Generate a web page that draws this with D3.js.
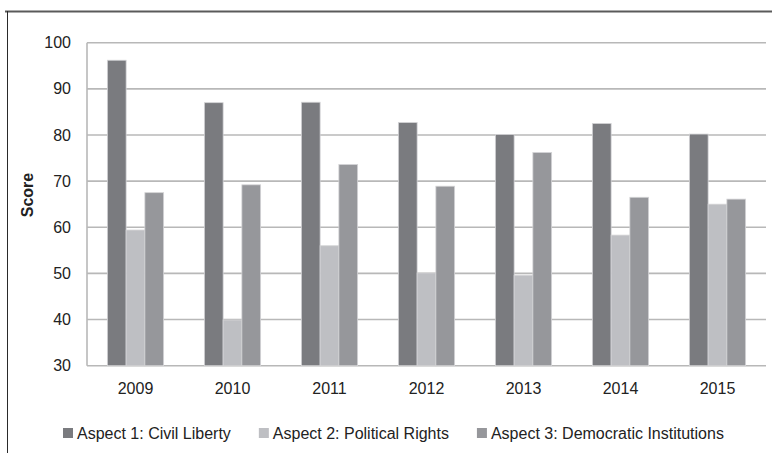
<!DOCTYPE html>
<html>
<head>
<meta charset="utf-8">
<script src="https://cdn.jsdelivr.net/npm/d3@7"></script>
<style>
  html, body { margin: 0; padding: 0; background: #fff; }
  svg { display: block; font-family: "Liberation Sans", Arial, sans-serif; }
</style>
</head>
<body>
<svg id="chart" width="772" height="453"></svg>
<script>
// Yearly scores on three aspects
const years = ["2009", "2010", "2011", "2012", "2013", "2014", "2015"];
const seriesNames = [
  "Aspect 1: Civil Liberty",
  "Aspect 2: Political Rights",
  "Aspect 3: Democratic Institutions"
];
const civilLiberty = [96.2, 87.0, 87.1, 82.7, 80.1, 82.5, 80.2];
const politicalRights = [59.4, 39.9, 56.0, 50.1, 49.6, 58.3, 65.0];
const democraticInstitutions = [67.5, 69.2, 73.6, 68.9, 76.2, 66.5, 66.1];
const yTicks = [30, 40, 50, 60, 70, 80, 90, 100];
const seriesColors = ["#7a7b7f", "#bebfc3", "#96979b"];

const seriesValues = [civilLiberty, politicalRights, democraticInstitutions];
const rows = years.map((y, i) => ({
  year: y,
  values: seriesNames.map((s, k) => ({ key: s, value: seriesValues[k][i] }))
}));

const svg = d3.select("#chart");
const plot = { left: 87, right: 766, top: 42.7, bottom: 365.7 };
const fontStack = "'Liberation Sans', Arial, sans-serif";

const x = d3.scaleBand().domain(years)
  .range([plot.left, plot.right])
  .paddingInner(0.42).paddingOuter(0.21);
const xInner = d3.scaleBand().domain(seriesNames).range([0, x.bandwidth()]);
const y = d3.scaleLinear().domain([30, 100]).range([plot.bottom, plot.top]);
const color = d3.scaleOrdinal().domain(seriesNames).range(seriesColors);

// Frame lines around the figure
svg.append("line")
  .attr("x1", 5).attr("x2", 772).attr("y1", 11.5).attr("y2", 11.5)
  .attr("stroke", "#5a5a5a").attr("stroke-width", 2);
svg.append("line")
  .attr("x1", 7.5).attr("x2", 7.5).attr("y1", 11).attr("y2", 453)
  .attr("stroke", "#2a2a2a").attr("stroke-width", 1);

// Horizontal gridlines
svg.append("g").selectAll("line")
  .data(yTicks)
  .join("line")
  .attr("x1", plot.left).attr("x2", plot.right)
  .attr("y1", d => y(d)).attr("y2", d => y(d))
  .attr("stroke", "#b8b8b8").attr("stroke-width", 1.6);

// Left axis line
svg.append("line")
  .attr("x1", plot.left).attr("x2", plot.left)
  .attr("y1", y(100)).attr("y2", y(30))
  .attr("stroke", "#b8b8b8").attr("stroke-width", 1.6);

// Bars
const groups = svg.append("g").selectAll("g")
  .data(rows)
  .join("g")
  .attr("transform", d => `translate(${x(d.year)},0)`);
groups.selectAll("rect")
  .data(d => d.values)
  .join("rect")
  .attr("x", d => xInner(d.key))
  .attr("width", xInner.bandwidth())
  .attr("y", d => y(d.value))
  .attr("height", d => y(30) - y(d.value))
  .attr("fill", d => color(d.key))
  .attr("stroke", "#d4d4d6").attr("stroke-width", 0.8);

// Y axis labels
const yAxis = d3.axisLeft(y).tickValues(yTicks).tickSize(0).tickPadding(16);
const gy = svg.append("g").attr("transform", `translate(${plot.left},0)`).call(yAxis);
gy.select(".domain").remove();
gy.selectAll("text")
  .attr("font-size", 16).attr("fill", "#222")
  .attr("font-family", fontStack);

// X axis labels
const xAxis = d3.axisBottom(x).tickSize(0).tickPadding(17);
const gx = svg.append("g").attr("transform", `translate(0,${plot.bottom})`).call(xAxis);
gx.select(".domain").remove();
gx.selectAll("text")
  .attr("font-size", 16).attr("fill", "#222")
  .attr("font-family", fontStack);

// Y axis title
svg.append("text")
  .attr("transform", `translate(33,195) rotate(-90)`)
  .attr("text-anchor", "middle")
  .attr("font-size", 16).attr("font-weight", "bold").attr("fill", "#222")
  .attr("font-family", fontStack)
  .text("Score");

// Legend
const legend = svg.append("g");
let lx = 63;
seriesNames.forEach(name => {
  legend.append("rect")
    .attr("x", lx).attr("y", 428).attr("width", 10).attr("height", 10)
    .attr("fill", color(name));
  const t = legend.append("text")
    .attr("x", lx + 14).attr("y", 438.5)
    .attr("font-size", 16).attr("fill", "#222")
    .attr("font-family", fontStack)
    .text(name);
  lx += 14 + t.node().getComputedTextLength() + 28;
});
</script>
</body>
</html>
